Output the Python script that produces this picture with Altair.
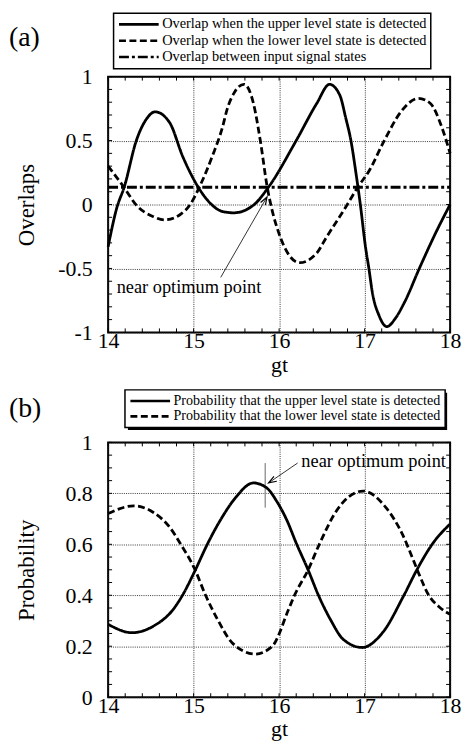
import altair as alt
import pandas as pd

FONT = "Liberation Serif"

# ---------------- data ----------------
series_a = [
    "Overlap when the upper level state is detected",
    "Overlap when the lower level state is detected",
    "Overlap between input signal states",
]
series_b = [
    "Probability that the upper level state is detected",
    "Probability that the lower level state is detected",
]

# panel (a): overlaps
gt_a_upper = [14.00, 14.10, 14.19, 14.33, 14.45, 14.55, 14.72, 14.87, 15.05, 15.18,
              15.34, 15.47, 15.70, 15.88, 16.20, 16.44, 16.59, 16.71, 16.78, 16.84,
              16.90, 16.95, 17.01, 17.05, 17.09, 17.17, 17.26, 17.36, 17.47, 17.64,
              17.84, 18.00]
ov_upper = [-0.33, -0.03, 0.14, 0.50, 0.67, 0.725, 0.64, 0.38, 0.14, 0.02,
            -0.055, -0.065, -0.005, 0.14, 0.50, 0.79, 0.94, 0.855, 0.675, 0.50,
            0.24, 0.00, -0.33, -0.50, -0.685, -0.87, -0.955, -0.89, -0.76, -0.50,
            -0.21, 0.00]

gt_a_lower = [14.00, 14.18, 14.33, 14.53, 14.66, 14.84, 14.97, 15.07, 15.22, 15.34,
              15.39, 15.48, 15.59, 15.70, 15.78, 15.86, 15.92, 15.99, 16.11, 16.24,
              16.44, 16.55, 16.78, 16.92, 17.05, 17.23, 17.43, 17.63, 17.77, 17.90,
              18.00]
ov_lower = [0.30, 0.14, -0.005, -0.095, -0.12, -0.08, 0.01, 0.14, 0.38, 0.61,
            0.74, 0.88, 0.94, 0.79, 0.50, 0.14, -0.05, -0.21, -0.39, -0.455,
            -0.38, -0.26, -0.02, 0.136, 0.26, 0.50, 0.73, 0.83, 0.79, 0.61,
            0.40]

gt_a_input = [14.0, 18.0]
ov_input = [0.135, 0.135]

# panel (b): probabilities
gt_b_upper = [14.00, 14.28, 14.53, 14.76, 14.87, 15.01, 15.16, 15.34, 15.49, 15.70,
              15.86, 15.97, 16.09, 16.20, 16.34, 16.46, 16.60, 16.75, 16.97, 17.21,
              17.46, 17.61, 17.79, 18.00]
p_upper = [0.286, 0.253, 0.279, 0.344, 0.40, 0.492, 0.60, 0.71, 0.783, 0.841,
           0.82, 0.77, 0.695, 0.605, 0.499, 0.40, 0.305, 0.227, 0.195, 0.253,
           0.40, 0.499, 0.60, 0.68]

gt_b_lower = [14.00, 14.30, 14.53, 14.72, 14.85, 15.01, 15.14, 15.28, 15.45, 15.72,
              15.92, 16.11, 16.18, 16.34, 16.47, 16.67, 16.98, 17.25, 17.44, 17.57,
              17.64, 17.75, 17.87, 18.00]
p_lower = [0.721, 0.751, 0.725, 0.667, 0.60, 0.505, 0.40, 0.305, 0.214, 0.169,
           0.20, 0.344, 0.40, 0.50, 0.60, 0.731, 0.809, 0.744, 0.641, 0.538,
           0.48, 0.40, 0.355, 0.325]

# tick labels / minor ticks
x_ticks = [14, 15, 16, 17, 18]
y_ticks_a = [-1, -0.5, 0, 0.5, 1]
y_ticks_b = [0, 0.2, 0.4, 0.6, 0.8, 1]
x_minor = [14.0, 14.2, 14.4, 14.6, 14.8, 15.0, 15.2, 15.4, 15.6, 15.8, 16.0,
           16.2, 16.4, 16.6, 16.8, 17.0, 17.2, 17.4, 17.6, 17.8, 18.0]
y_minor_a = [-1.0, -0.9, -0.8, -0.7, -0.6, -0.5, -0.4, -0.3, -0.2, -0.1, 0.0,
             0.1, 0.2, 0.3, 0.4, 0.5, 0.6, 0.7, 0.8, 0.9, 1.0]
y_minor_b = [0.0, 0.05, 0.1, 0.15, 0.2, 0.25, 0.3, 0.35, 0.4, 0.45, 0.5,
             0.55, 0.6, 0.65, 0.7, 0.75, 0.8, 0.85, 0.9, 0.95, 1.0]

# annotations
note_text = ["near optimum point"]
note_a = {"gt": [14.10], "value": [-0.646]}
arrow_a = {"gt": [15.317], "value": [-0.57], "gt2": [15.858], "value2": [0.059]}
note_b = {"gt": [16.26], "value": [0.926]}
arrow_b = {"gt": [16.216], "value": [0.919], "gt2": [15.877], "value2": [0.841]}
marker_b = {"gt": [15.838], "value": [0.744], "value2": [0.919]}

W = 345
HA = 258
HB = 257

def long_df(pairs, names):
    frames = []
    for (g, v), n in zip(pairs, names):
        frames.append(pd.DataFrame({"gt": g, "value": v, "series": n}))
    return pd.concat(frames, ignore_index=True)

df_a = long_df([(gt_a_upper, ov_upper), (gt_a_lower, ov_lower), (gt_a_input, ov_input)], series_a)
df_b = long_df([(gt_b_upper, p_upper), (gt_b_lower, p_lower)], series_b)

xscale = alt.Scale(domain=[14, 18], nice=False, zero=False)
x_axis = alt.Axis(values=x_ticks, title="gt", grid=True, ticks=False, domain=False,
                  labelFontSize=22, titleFontSize=22, labelPadding=-2, titlePadding=3,
                  labelFlush=False, labelOverlap=False)


def panel(df, names, dashes, yscale, yaxis, H, legend_x, legend_y, legend_font,
          shadow_w, shadow_h, tag, tag_y, y_minor, annotations):
    X = alt.X("gt:Q", scale=xscale, axis=x_axis)
    Y = alt.Y("value:Q", scale=yscale, axis=yaxis)
    one = pd.DataFrame({"label": [tag]})

    shadow = alt.Chart(one).mark_rect(color="black").encode(
        x=alt.value(legend_x + 3), x2=alt.value(legend_x + shadow_w + 3),
        y=alt.value(legend_y + 3), y2=alt.value(legend_y + shadow_h + 3))

    lines = alt.Chart(df).mark_line(color="black", strokeWidth=2.8, interpolate="monotone").encode(
        x=X, y=Y,
        strokeDash=alt.StrokeDash(
            "series:N",
            scale=alt.Scale(domain=names, range=dashes),
            legend=alt.Legend(orient="none", legendX=legend_x, legendY=legend_y, title=None,
                              symbolType="stroke", symbolSize=1600, clipHeight=14.5,
                              labelOffset=2, symbolStrokeWidth=2.6, labelFontSize=legend_font,
                              symbolStrokeColor="black"),
        ),
    )

    tx = pd.DataFrame({"gt": x_minor})
    ty = pd.DataFrame({"value": y_minor})
    t_top = alt.Chart(tx).mark_rule(color="black", strokeWidth=1).encode(
        x=X, y=alt.value(0), y2=alt.value(4))
    t_bot = alt.Chart(tx).mark_rule(color="black", strokeWidth=1).encode(
        x=X, y=alt.value(H), y2=alt.value(H - 4))
    t_left = alt.Chart(ty).mark_rule(color="black", strokeWidth=1).encode(
        y=Y, x=alt.value(0), x2=alt.value(4))
    t_right = alt.Chart(ty).mark_rule(color="black", strokeWidth=1).encode(
        y=Y, x=alt.value(W - 4), x2=alt.value(W))

    label = alt.Chart(one).mark_text(font=FONT, fontSize=28, align="left", baseline="middle",
                                     color="black").encode(
        text="label:N", x=alt.value(-100), y=alt.value(tag_y))

    layers = [shadow, t_top, t_bot, t_left, t_right] + annotations(X, Y) + [lines, label]
    return alt.layer(*layers).properties(width=W, height=H)


def annotations_a(X, Y):
    arr = pd.DataFrame(arrow_a)
    txt = pd.DataFrame({**note_a, "t": note_text})
    rule = alt.Chart(arr).mark_rule(color="black", strokeWidth=0.8).encode(
        x=X, y=Y, x2="gt2:Q", y2="value2:Q")
    head = alt.Chart(arr).mark_point(shape="M-0.35,1L0,0L0.35,1", filled=False, size=256,
                                     angle=30, color="black", strokeWidth=1.2, opacity=1).encode(
        x=alt.X("gt2:Q", scale=xscale, axis=x_axis),
        y=alt.Y("value2:Q", scale=alt.Scale(domain=[-1, 1], nice=False)))
    text = alt.Chart(txt).mark_text(font=FONT, fontSize=18.5, align="left", baseline="middle",
                                    color="black").encode(x=X, y=Y, text="t:N")
    return [rule, head, text]


def annotations_b(X, Y):
    arr = pd.DataFrame(arrow_b)
    mk = pd.DataFrame(marker_b)
    txt = pd.DataFrame({**note_b, "t": note_text})
    bar = alt.Chart(mk).mark_rule(color="#9a9a9a", strokeWidth=1.5).encode(
        x=X, y=Y, y2="value2:Q")
    rule = alt.Chart(arr).mark_rule(color="black", strokeWidth=0.8).encode(
        x=X, y=Y, x2="gt2:Q", y2="value2:Q")
    head = alt.Chart(arr).mark_point(shape="M-0.35,1L0,0L0.35,1", filled=False, size=256,
                                     angle=239, color="black", strokeWidth=1.2, opacity=1).encode(
        x=alt.X("gt2:Q", scale=xscale, axis=x_axis),
        y=alt.Y("value2:Q", scale=alt.Scale(domain=[0, 1], nice=False)))
    text = alt.Chart(txt).mark_text(font=FONT, fontSize=18.5, align="left", baseline="middle",
                                    color="black").encode(x=X, y=Y, text="t:N")
    return [bar, rule, head, text]


yaxis_a = alt.Axis(values=y_ticks_a, title="Overlaps", grid=True, ticks=False, domain=False,
                   labelFontSize=22, titleFontSize=23, labelPadding=16, titlePadding=19,
                   labelExpr="datum.value + ''", labelOverlap=False)
yaxis_b = alt.Axis(values=y_ticks_b, title="Probability", grid=True, ticks=False, domain=False,
                   labelFontSize=22, titleFontSize=23, labelPadding=16, titlePadding=27,
                   labelExpr="datum.value + ''", labelOverlap=False)

chart_a = panel(df_a, series_a, [[1, 0], [7, 3.5], [10, 3, 3, 3]],
                alt.Scale(domain=[-1, 1], nice=False), yaxis_a, HA,
                5.5, -64, 14.5, 317, 52.5, "(a)", -39, y_minor_a, annotations_a)
chart_b = panel(df_b, series_b, [[1, 0], [7, 3.5]],
                alt.Scale(domain=[0, 1], nice=False), yaxis_b, HB,
                17, -53, 14.2, 322, 37.5, "(b)", -34, y_minor_b, annotations_b)

chart = (
    alt.vconcat(chart_a, chart_b, spacing=111, bounds="flush", padding=0)
    .resolve_scale(strokeDash="independent", y="independent")
    .resolve_legend(strokeDash="independent")
    .configure_view(stroke="black", strokeWidth=2)
    .configure_axis(labelFont=FONT, titleFont=FONT, labelColor="black", titleColor="black",
                    titleFontWeight="normal", gridColor="#222222", gridDash=[1, 1.2],
                    gridWidth=0.9, gridOpacity=1)
    .configure_legend(labelFont=FONT,
                      labelColor="black", labelLimit=500,
                      fillColor="white", strokeColor="black", strokeWidth=1.5,
                      padding=4, rowPadding=0.5)
    .configure_text(font=FONT)
)

chart.save("out.html", embed_options={"renderer": "svg", "actions": False})
